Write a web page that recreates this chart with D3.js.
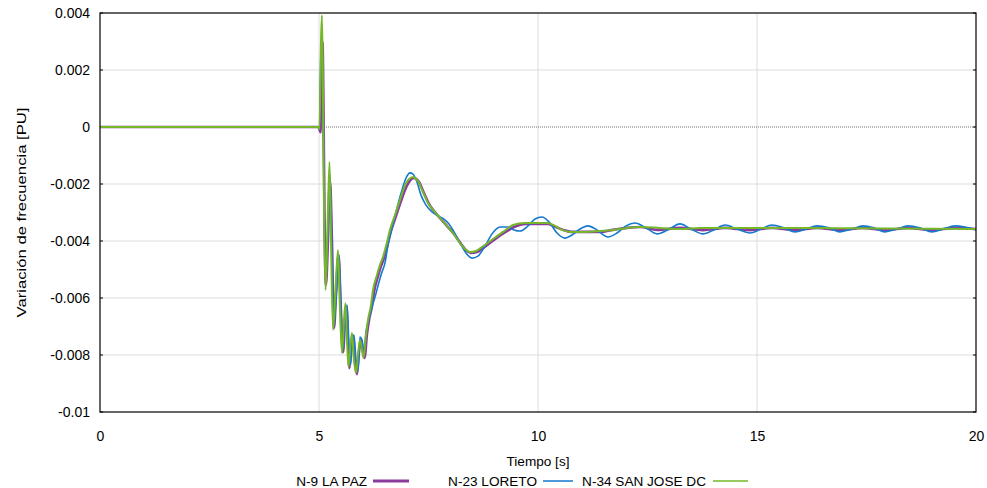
<!DOCTYPE html>
<html>
<head>
<meta charset="utf-8">
<script src="https://cdn.jsdelivr.net/npm/d3@7"></script>
<style>
  body { margin: 0; background: #fff; }
  svg { display: block; font-family: "Liberation Sans", Arial, sans-serif; }
</style>
</head>
<body>
<svg width="987" height="488"></svg>
<script>
// tick labels
const xTicks = [0, 5, 10, 15, 20];
const yTicks = [0.004, 0.002, 0, -0.002, -0.004, -0.006, -0.008, -0.01];

// series: [tiempo s, variacion PU]
const laPaz = [
  [0, 0], [4.98, 0], [5.0, -0.000035], [5.034, -0.00018], [5.057, 0.00235], [5.08, 0.00298],
  [5.103, 0.0006], [5.126, -0.00323], [5.158, -0.00554], [5.205, -0.00396], [5.251, -0.00186],
  [5.297, -0.0041], [5.342, -0.00705], [5.388, -0.00589], [5.445, -0.00449], [5.502, -0.00649],
  [5.548, -0.0079], [5.594, -0.00684], [5.628, -0.00628], [5.662, -0.00755], [5.696, -0.00846],
  [5.74, -0.00765], [5.776, -0.00733], [5.822, -0.00824], [5.868, -0.00867], [5.913, -0.0079],
  [5.959, -0.00747], [6.005, -0.0079], [6.039, -0.0081], [6.096, -0.00726], [6.142, -0.00677],
  [6.21, -0.00628], [6.256, -0.00579], [6.347, -0.00523], [6.416, -0.00488], [6.484, -0.0046],
  [6.575, -0.00407], [6.644, -0.00365], [6.758, -0.00312], [6.872, -0.0026], [6.963, -0.00221],
  [7.055, -0.00193], [7.169, -0.00179], [7.283, -0.00193], [7.397, -0.00232], [7.511, -0.0027],
  [7.626, -0.00295], [7.785, -0.00323], [7.945, -0.00351], [8.082, -0.00375], [8.242, -0.0041],
  [8.356, -0.00432], [8.47, -0.00442], [8.607, -0.00439], [8.744, -0.00425], [8.995, -0.00396],
  [9.224, -0.00372], [9.452, -0.00351], [9.726, -0.0034], [10.0, -0.0034], [10.228, -0.0034],
  [10.411, -0.00351], [10.571, -0.00361], [10.753, -0.00368], [11.096, -0.00368], [11.416, -0.00368],
  [11.712, -0.00361], [12.032, -0.00354], [12.329, -0.00351], [12.717, -0.00361], [13.242, -0.00354],
  [13.767, -0.00362], [14.269, -0.00354], [14.84, -0.00362], [15.342, -0.00354], [15.868, -0.00362],
  [16.37, -0.00354], [16.895, -0.00362], [17.42, -0.00354], [17.922, -0.00362], [18.447, -0.00354],
  [18.995, -0.00362], [19.521, -0.00354], [20, -0.00358]
];

const loreto = [
  [0, 0], [4.98, 0], [5.011, -0.0001], [5.046, 0.0027], [5.068, 0.00281], [5.091, 0.00095],
  [5.126, -0.00361], [5.158, -0.00537], [5.205, -0.00361], [5.251, -0.00168], [5.297, -0.00438],
  [5.342, -0.00695], [5.4, -0.00572], [5.457, -0.00449], [5.502, -0.00642], [5.548, -0.00782],
  [5.594, -0.0067], [5.639, -0.00625], [5.685, -0.00765], [5.719, -0.00835], [5.765, -0.00747],
  [5.799, -0.0073], [5.845, -0.00818], [5.89, -0.00853], [5.936, -0.00737], [5.982, -0.00747],
  [6.027, -0.0079], [6.073, -0.00719], [6.119, -0.00684], [6.187, -0.00642], [6.279, -0.00597],
  [6.37, -0.00544], [6.438, -0.00509], [6.507, -0.00477], [6.575, -0.00414], [6.667, -0.00354],
  [6.781, -0.00284], [6.895, -0.00221], [6.986, -0.00179], [7.078, -0.00161], [7.146, -0.00165],
  [7.237, -0.00193], [7.329, -0.00239], [7.443, -0.00274], [7.58, -0.00298], [7.717, -0.00312],
  [7.854, -0.00323], [7.968, -0.0034], [8.082, -0.00368], [8.219, -0.00407], [8.356, -0.00442],
  [8.493, -0.0046], [8.63, -0.00453], [8.79, -0.00418], [8.95, -0.00375], [9.132, -0.00351],
  [9.315, -0.00351], [9.452, -0.00361], [9.589, -0.00365], [9.772, -0.00347], [9.932, -0.00323],
  [10.091, -0.00316], [10.251, -0.00333], [10.434, -0.00372], [10.616, -0.0039], [10.776, -0.00379],
  [10.959, -0.00358], [11.142, -0.00347], [11.347, -0.00361], [11.598, -0.00386], [11.804, -0.00372],
  [12.009, -0.00347], [12.215, -0.00337], [12.466, -0.00354], [12.717, -0.00375], [12.968, -0.00361],
  [13.242, -0.0034], [13.493, -0.00358], [13.767, -0.00375], [14.018, -0.00361], [14.269, -0.00344],
  [14.543, -0.00358], [14.84, -0.00372], [15.091, -0.00358], [15.342, -0.00344], [15.616, -0.00354],
  [15.868, -0.00368], [16.119, -0.00358], [16.37, -0.00347], [16.644, -0.00354], [16.895, -0.00368],
  [17.169, -0.00358], [17.42, -0.00347], [17.671, -0.00354], [17.922, -0.00368], [18.196, -0.00358],
  [18.447, -0.00347], [18.721, -0.00354], [18.995, -0.00368], [19.247, -0.00358], [19.521, -0.00347],
  [19.749, -0.00351], [20, -0.00361]
];

const sanJose = [
  [0, 0], [4.98, 0], [5.011, -0.00007], [5.046, 0.00305], [5.068, 0.00392], [5.091, 0.0013],
  [5.114, -0.00291], [5.15, -0.00572], [5.19, -0.00379], [5.24, -0.00123], [5.274, -0.00396],
  [5.32, -0.00712], [5.377, -0.00572], [5.434, -0.00432], [5.479, -0.00642], [5.525, -0.00793],
  [5.571, -0.00677], [5.605, -0.00618], [5.639, -0.00747], [5.674, -0.00842], [5.719, -0.00765],
  [5.753, -0.00723], [5.799, -0.00818], [5.845, -0.00863], [5.89, -0.008], [5.936, -0.00747],
  [5.982, -0.00782], [6.016, -0.0081], [6.073, -0.0073], [6.119, -0.00677], [6.187, -0.00625],
  [6.233, -0.00572], [6.324, -0.00519], [6.393, -0.00484], [6.461, -0.00456], [6.553, -0.00404],
  [6.621, -0.00361], [6.735, -0.00309], [6.849, -0.00256], [6.941, -0.00214], [7.032, -0.00186],
  [7.146, -0.00175], [7.26, -0.0019], [7.374, -0.00228], [7.489, -0.00267], [7.603, -0.00291],
  [7.763, -0.00319], [7.922, -0.00347], [8.059, -0.00372], [8.219, -0.00407], [8.333, -0.00428],
  [8.447, -0.00439], [8.584, -0.00435], [8.721, -0.00421], [8.973, -0.00393], [9.201, -0.00368],
  [9.429, -0.00344], [9.703, -0.00337], [9.977, -0.00337], [10.205, -0.00337], [10.388, -0.00347],
  [10.548, -0.00361], [10.731, -0.00368], [11.073, -0.00368], [11.416, -0.00365], [11.712, -0.00361],
  [12.032, -0.00354], [12.329, -0.00351], [12.785, -0.00354], [13.242, -0.00358], [13.699, -0.00354],
  [14.612, -0.00354], [15.982, -0.00354], [20, -0.00358]
];

const series = [
  { name: "N-9 LA PAZ", data: laPaz, color: "#8a3c9c", width: 2.6 },
  { name: "N-23 LORETO", data: loreto, color: "#1479cf", width: 1.6 },
  { name: "N-34 SAN JOSE DC", data: sanJose, color: "#76b72a", width: 2 }
];

const svg = d3.select("svg");
const margin = { top: 13, right: 11, bottom: 76, left: 100 };
const width = 987 - margin.left - margin.right;
const height = 488 - margin.top - margin.bottom;

const x = d3.scaleLinear().domain([0, 20]).range([0, width]);
const y = d3.scaleLinear().domain([-0.01, 0.004]).range([height, 0]);

const g = svg.append("g").attr("transform", `translate(${margin.left},${margin.top})`);

g.append("clipPath").attr("id", "clip")
  .append("rect").attr("width", width).attr("height", height);

// grid
g.append("g")
  .selectAll("line")
  .data(xTicks.slice(1, -1))
  .join("line")
  .attr("x1", d => x(d)).attr("x2", d => x(d))
  .attr("y1", 0).attr("y2", height)
  .attr("stroke", "#dcdcdc");

g.append("g")
  .selectAll("line")
  .data(yTicks.filter(d => d !== 0 && d !== 0.004 && d !== -0.01))
  .join("line")
  .attr("x1", 0).attr("x2", width)
  .attr("y1", d => y(d)).attr("y2", d => y(d))
  .attr("stroke", "#dcdcdc");

// zero line, dotted
g.append("line")
  .attr("x1", 0).attr("x2", width)
  .attr("y1", y(0)).attr("y2", y(0))
  .attr("stroke", "#707070")
  .attr("stroke-dasharray", "1,1");

// axes
const yAxis = g.append("g")
  .call(d3.axisLeft(y).tickValues(yTicks).tickSize(0).tickPadding(10)
    .tickFormat(d => String(+d.toFixed(3))));
const xAxis = g.append("g")
  .attr("transform", `translate(0,${height})`)
  .call(d3.axisBottom(x).tickValues(xTicks).tickSize(0).tickPadding(19)
    .tickFormat(d => String(d)));

[yAxis, xAxis].forEach(a => {
  a.select(".domain").remove();
  a.selectAll("text").attr("font-size", 14).attr("fill", "#000")
    .attr("font-family", "Liberation Sans, Arial, sans-serif");
});

// small inward ticks on left and right
g.append("g")
  .selectAll("line")
  .data(yTicks)
  .join("line")
  .attr("x1", 0).attr("x2", 3)
  .attr("y1", d => y(d)).attr("y2", d => y(d))
  .attr("stroke", "#000");
g.append("g")
  .selectAll("line")
  .data(yTicks)
  .join("line")
  .attr("x1", width - 3).attr("x2", width)
  .attr("y1", d => y(d)).attr("y2", d => y(d))
  .attr("stroke", "#000");

// lines
const line = d3.line()
  .x(d => x(d[0]))
  .y(d => y(d[1]))
  .curve(d3.curveMonotoneX);

g.append("g")
  .attr("clip-path", "url(#clip)")
  .selectAll("path")
  .data(series)
  .join("path")
  .attr("d", d => line(d.data))
  .attr("fill", "none")
  .attr("stroke", d => d.color)
  .attr("stroke-width", d => d.width)
  .attr("stroke-linejoin", "round");

// frame
g.append("rect")
  .attr("width", width).attr("height", height)
  .attr("fill", "none")
  .attr("stroke", "#000")
  .attr("stroke-width", 1.2);

// axis titles
svg.append("text")
  .attr("x", margin.left + width / 2)
  .attr("y", 466)
  .attr("text-anchor", "middle")
  .attr("font-size", 13.6)
  .text("Tiempo [s]");

svg.append("text")
  .attr("transform", `translate(26,${margin.top + height / 2}) rotate(-90)`)
  .attr("text-anchor", "middle")
  .attr("font-size", 13.6)
  .attr("textLength", 210)
  .attr("lengthAdjust", "spacingAndGlyphs")
  .text("Variación de frecuencia [PU]");

// legend
const legendPos = [
  { tx: 367, x1: 373, x2: 409 },
  { tx: 537, x1: 543, x2: 573 },
  { tx: 706, x1: 713, x2: 748 }
];
const legend = svg.append("g")
  .selectAll("g")
  .data(series)
  .join("g");
legend.append("text")
  .attr("x", (d, i) => legendPos[i].tx)
  .attr("y", 486)
  .attr("text-anchor", "end")
  .attr("font-size", 13.6)
  .text(d => d.name);
legend.append("line")
  .attr("x1", (d, i) => legendPos[i].x1)
  .attr("x2", (d, i) => legendPos[i].x2)
  .attr("y1", 481).attr("y2", 481)
  .attr("stroke", d => d.color)
  .attr("stroke-width", (d, i) => i === 0 ? 3 : 1.5);
</script>
</body>
</html>
